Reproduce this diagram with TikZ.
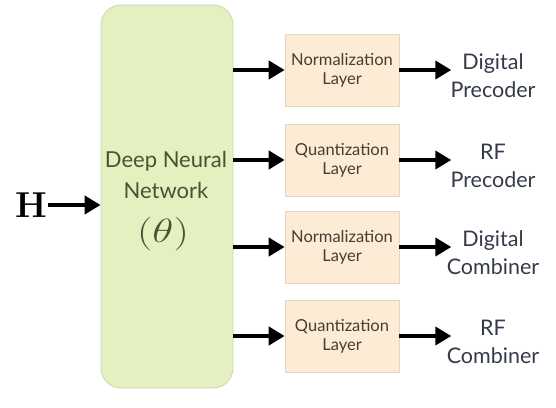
\documentclass[tikz,border=0pt]{standalone}
\usepackage{fontspec}
\usepackage{graphicx}
\setmainfont{Lato}
\newfontfamily\lmserif{Latin Modern Roman}
\usetikzlibrary{arrows.meta}
\definecolor{dnnfill}{RGB}{229,240,192}
\definecolor{dnnedge}{RGB}{205,214,175}
\definecolor{dnntext}{RGB}{70,84,52}
\definecolor{layfill}{RGB}{252,236,214}
\definecolor{layedge}{RGB}{232,214,192}
\definecolor{laytext}{RGB}{72,60,50}
\definecolor{outtext}{RGB}{52,58,72}
\tikzset{
  dnnbox/.style={draw=dnnedge, line width=0.8pt, fill=dnnfill, rounded corners=20pt,
    minimum width=132pt, minimum height=383pt, inner sep=0pt},
  laybox/.style={draw=layedge, line width=0.6pt, fill=layfill, minimum width=114pt,
    minimum height=72pt, inner sep=0pt, align=center, text=laytext,
    font=\fontsize{16.5}{19}\selectfont},
  outlabel/.style={align=center, text=outtext, font=\fontsize{21.5}{28}\selectfont},
  flow/.style={line width=4.8pt, -{Triangle[length=16pt,width=18pt]}},
}
\begin{document}
\begin{tikzpicture}[x=1pt,y=-1pt]
\useasboundingbox (0,0) rectangle (556,407);
% main network block
\node[dnnbox] (dnn) at (167,196.5) {};
\node[text=dnntext, font=\fontsize{22}{31}\selectfont, align=center] (dnnlbl) at (166,175) {Deep Neural\\Network};
\node[text=dnntext, font=\fontsize{24.88}{25}\selectfont] (theta) at (163,234) {\scalebox{1.75}[1.35]{$(\theta)$}};
% input
\node[font=\fontsize{36}{36}\selectfont\lmserif\bfseries, inner sep=0pt] (h) at (31,205) {H};
\draw[flow] (h.east) ++(1,0) coordinate (hs) -- (dnn.west |- hs);
% layer blocks
\node[laybox] (l1) at (342,70) {Normalization\\Layer};
\node[laybox] (l2) at (342,160) {Quantization\\Layer};
\node[laybox] (l3) at (342,247) {Normalization\\Layer};
\node[laybox] (l4) at (342,336) {Quantization\\Layer};
% outputs
\node[outlabel] (o1) at (493,76) {Digital\\Precoder};
\node[outlabel] (o2) at (493,166) {RF\\Precoder};
\node[outlabel] (o3) at (493,253) {Digital\\Combiner};
\node[outlabel] (o4) at (493,342) {RF\\Combiner};
% connectors
\foreach \i in {1,2,3,4}{
  \draw[flow] (dnn.east |- l\i.west) -- (l\i.west);
  \draw[flow] (l\i.east) -- ++(52,0) coordinate (e\i);
}
\end{tikzpicture}
\end{document}
